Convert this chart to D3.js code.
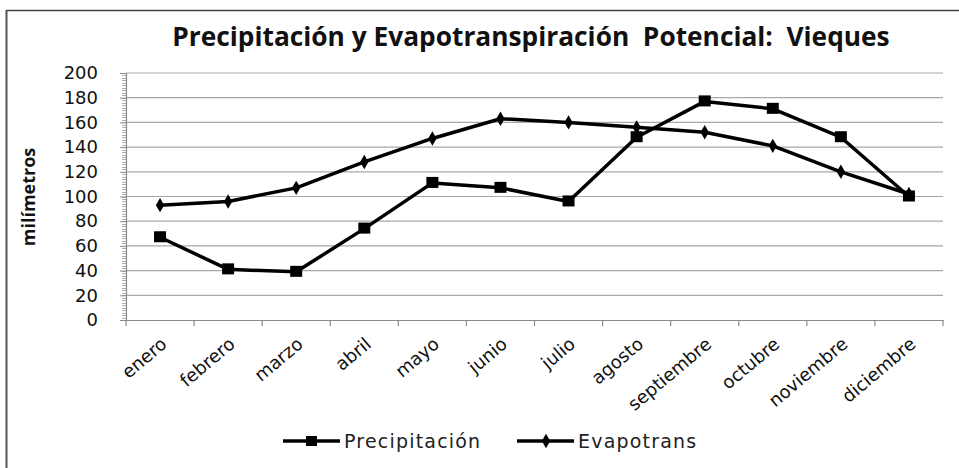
<!DOCTYPE html>
<html>
<head>
<meta charset="utf-8">
<script src="https://cdn.jsdelivr.net/npm/d3@7"></script>
<style>
  body { margin: 0; background: #fff; }
  svg { display: block; }
</style>
</head>
<body>
<svg id="chart" width="959" height="468"></svg>
<script>
const months = ["enero", "febrero", "marzo", "abril", "mayo", "junio", "julio",
  "agosto", "septiembre", "octubre", "noviembre", "diciembre"];
const precipitacion = [67, 41, 39, 74, 111, 107, 96, 148, 177, 171, 148, 100];
const evapotrans = [93, 96, 107, 128, 147, 163, 160, 156, 152, 141, 120, 102];
const yTicks = [0, 20, 40, 60, 80, 100, 120, 140, 160, 180, 200];

const svg = d3.select("#chart");
const plot = { left: 126, right: 943, top: 73, bottom: 320 };

// frame: top and left edges only
svg.append("line").attr("x1", 6).attr("x2", 959).attr("y1", 10.5).attr("y2", 10.5)
  .style("stroke", "#444").style("stroke-width", 1.5);
svg.append("line").attr("x1", 6.5).attr("x2", 6.5).attr("y1", 10).attr("y2", 468)
  .style("stroke", "#555").style("stroke-width", 2);

const x = d3.scaleBand().domain(months).range([plot.left, plot.right]);
const y = d3.scaleLinear().domain([0, 200]).range([plot.bottom, plot.top]);

// gridlines
svg.append("g").selectAll("line.grid")
  .data(yTicks.filter((d) => d > 0))
  .enter()
  .append("line")
  .attr("x1", plot.left).attr("x2", plot.right)
  .attr("y1", (d) => y(d)).attr("y2", (d) => y(d))
  .style("stroke", "#a8a8a8").style("stroke-width", 1.2);

// minor ticks on the y axis
svg.append("g").selectAll("line.minor")
  .data(d3.range(0, 201, 2))
  .enter()
  .append("line")
  .attr("x1", plot.left - 4).attr("x2", plot.left)
  .attr("y1", (d) => Math.round(y(d)) + 0.5).attr("y2", (d) => Math.round(y(d)) + 0.5)
  .style("stroke", "#999").style("stroke-width", 0.8);

// y axis
const yAxis = svg.append("g")
  .attr("transform", `translate(${plot.left},0)`)
  .call(d3.axisLeft(y).tickValues(yTicks).tickSize(6).tickPadding(22));
yAxis.select(".domain").style("stroke", "#8a8a8a").style("stroke-width", 1.2);
yAxis.selectAll(".tick line").style("stroke", "#8a8a8a");
yAxis.selectAll(".tick text")
  .style("font-family", "'DejaVu Sans', Verdana, sans-serif")
  .style("font-size", "18px").style("fill", "#111");

// x axis
const xAxis = svg.append("g")
  .attr("transform", `translate(0,${plot.bottom})`)
  .call(d3.axisBottom(x).tickSize(0).tickFormat(""));
xAxis.select(".domain").style("stroke", "#8a8a8a").style("stroke-width", 1.2);
svg.append("g").selectAll("line.xtick")
  .data(months.map((m) => x(m)).concat([plot.right]))
  .enter()
  .append("line")
  .attr("x1", (d) => d).attr("x2", (d) => d)
  .attr("y1", plot.bottom).attr("y2", plot.bottom + 6)
  .style("stroke", "#8a8a8a").style("stroke-width", 1.2);

svg.append("g").selectAll("text.xlabel")
  .data(months)
  .enter()
  .append("text")
  .attr("text-anchor", "end")
  .attr("transform", (d) => `translate(${x(d) + x.bandwidth() / 2 + 8},${plot.bottom + 26}) rotate(-40)`)
  .style("font-family", "'DejaVu Sans', Verdana, sans-serif")
  .style("font-size", "18px").style("fill", "#111")
  .text((d) => d);

// lines
const cx = (i) => x(months[i]) + x.bandwidth() / 2;
const line = d3.line().x((d, i) => cx(i)).y((d) => y(d));

svg.append("path").datum(evapotrans).attr("d", line)
  .style("fill", "none").style("stroke", "#000").style("stroke-width", 3.5)
  .style("stroke-linejoin", "round");
svg.append("path").datum(precipitacion).attr("d", line)
  .style("fill", "none").style("stroke", "#000").style("stroke-width", 3.5)
  .style("stroke-linejoin", "round");

svg.append("g").selectAll("rect.sq")
  .data(precipitacion)
  .enter()
  .append("rect")
  .attr("x", (d, i) => cx(i) - 6).attr("y", (d) => y(d) - 6)
  .attr("width", 12).attr("height", 11)
  .style("fill", "#000");

const diamond = d3.symbol().type(d3.symbolDiamond).size(60);
svg.append("g").selectAll("path.dm")
  .data(evapotrans)
  .enter()
  .append("path")
  .attr("d", diamond)
  .attr("transform", (d, i) => `translate(${cx(i)},${y(d)})`)
  .style("fill", "#000");

// title, sized to fit the width it has in the reference
const title = svg.append("text")
  .attr("x", 531).attr("y", 46)
  .attr("text-anchor", "middle")
  .style("font-family", "'Open Sans', sans-serif")
  .style("font-weight", "bold")
  .style("font-size", "20px")
  .style("white-space", "pre")
  .style("fill", "#111")
  .text("Precipitación y Evapotranspiración  Potencial:  Vieques");
const tw = title.node().getComputedTextLength();
title.style("font-size", (20 * 718 / tw).toFixed(1) + "px");

// y axis title
svg.append("text")
  .attr("transform", "translate(35,197) rotate(-90)")
  .attr("text-anchor", "middle")
  .style("font-family", "'Liberation Sans Narrow', 'Open Sans', sans-serif")
  .style("font-weight", "bold")
  .style("font-size", "18px")
  .style("fill", "#111")
  .text("milímetros");

// legend
const legend = [
  { name: "Precipitación", x: 283, marker: "square" },
  { name: "Evapotrans", x: 517, marker: "diamond" }
];
const lg = svg.append("g").selectAll("g.legend")
  .data(legend)
  .enter()
  .append("g")
  .attr("transform", (d) => `translate(${d.x},441)`);
lg.append("line").attr("x1", 0).attr("x2", 57).attr("y1", 0).attr("y2", 0)
  .style("stroke", "#000").style("stroke-width", 3.5);
lg.filter((d) => d.marker === "square").append("rect")
  .attr("x", 23).attr("y", -5).attr("width", 11).attr("height", 10).style("fill", "#000");
lg.filter((d) => d.marker === "diamond").append("path")
  .attr("d", diamond).attr("transform", "translate(29,0)").style("fill", "#000");
lg.append("text")
  .attr("x", 61).attr("y", 7)
  .style("font-family", "'DejaVu Sans', Verdana, sans-serif")
  .style("font-size", "19px").style("letter-spacing", "1.2px").style("fill", "#222")
  .text((d) => d.name);
</script>
</body>
</html>
